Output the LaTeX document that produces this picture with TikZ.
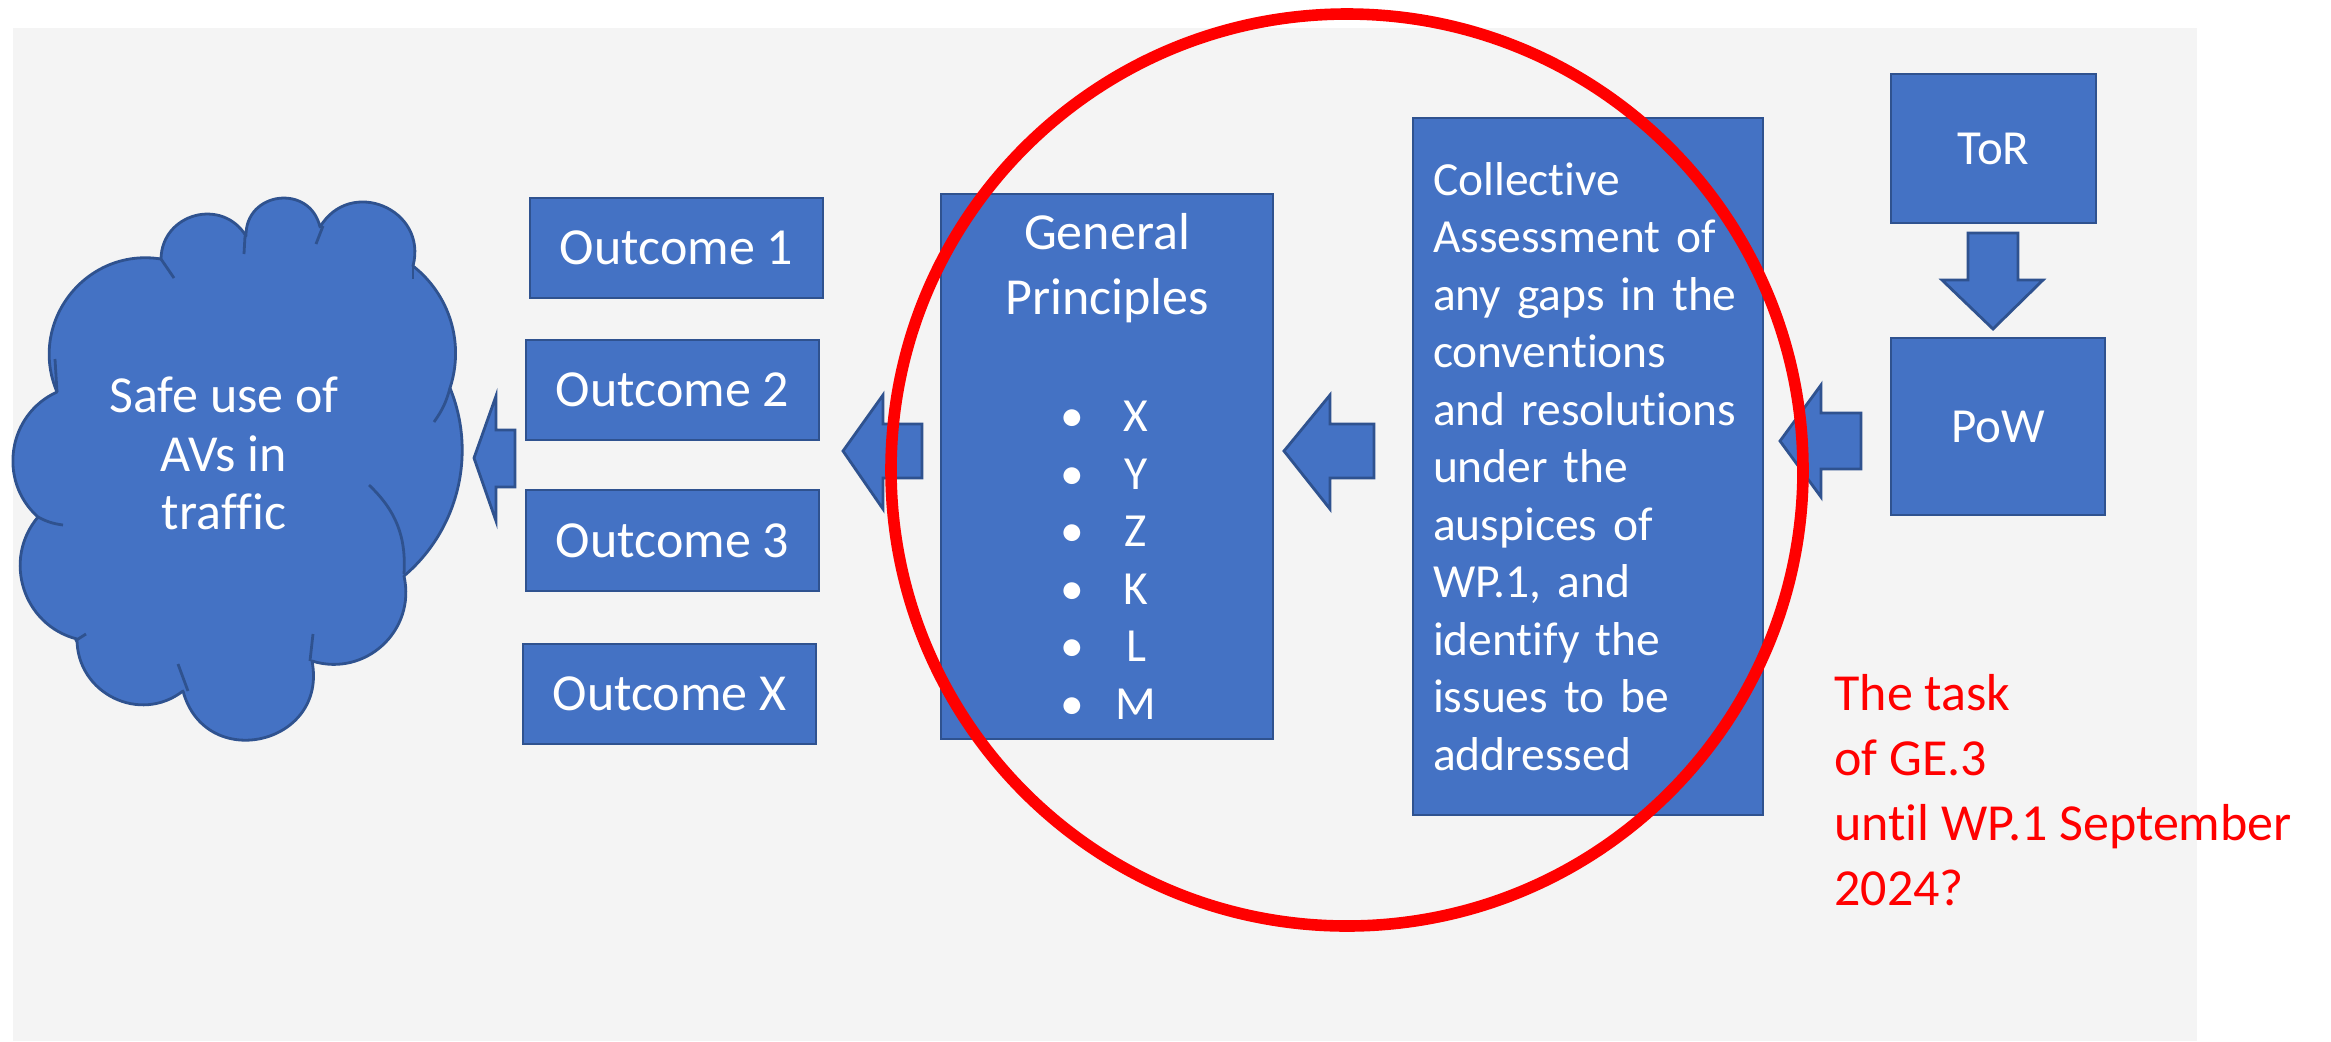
\documentclass[tikz,border=0pt]{standalone}
\usepackage{fontspec}
\setmainfont{Carlito}[Ligatures=NoCommon]
\usetikzlibrary{positioning}
\definecolor{boxblue}{HTML}{4472C4}
\definecolor{boxline}{HTML}{2F528F}
\definecolor{bggrey}{HTML}{F4F4F4}
\definecolor{ringred}{HTML}{FF0000}
\tikzset{
    blockbox/.style = {rectangle, draw=boxline, line width=1.4pt, fill=boxblue, text=white, inner sep=0pt, align=center},
    outbox/.style = {blockbox, minimum width=146.5pt, minimum height=50pt, font=\fontsize{26}{31}\selectfont},
    blockarrow/.style = {draw=boxline, line width=1.4pt, fill=boxblue, line join=miter},
    puffline/.style = {draw=boxline, line width=1.4pt},
    puff/.style = {puffline, fill=boxblue, line join=round},
    redring/.style = {circle, draw=ringred, line width=5.8pt, minimum size=456pt, inner sep=0pt},
    tasktext/.style = {text=ringred, align=left, anchor=north west, inner sep=0pt, font=\fontsize{26}{32.5}\selectfont}
}
\newcommand{\gpitem}[1]{\makebox[29pt]{\textbullet}\makebox[35pt]{#1}}

\begin{document}
\begin{tikzpicture}[x=0.5pt, y=-0.5pt]
  \useasboundingbox (0,0) rectangle (2331,1041);
  \fill[bggrey] (13,28) rectangle (2197,1041);

  % cloud
  \draw[puff] (57,392) to[bend right=57, looseness=1.10] (38,517)
    to[bend right=58, looseness=1.11] (77,639)
    to[bend right=64, looseness=1.18] (183,691)
    to[bend right=88, looseness=1.65] (312,661)
    to[bend right=60, looseness=1.14] (404,576)
    to[bend right=36, looseness=0.94] (450,388)
    to[bend right=35, looseness=0.94] (413,266)
    to[bend right=82, looseness=1.49] (320,227)
    to[bend right=84, looseness=1.54] (246,236)
    to[bend right=74, looseness=1.33] (161,259)
    to[bend right=61, looseness=1.15] (57,392) -- cycle;
  \draw[puffline] (55,359) -- (57,392);
  \draw[puffline] (38,517) to[bend right=10] (63,525);
  \draw[puffline] (75,641) -- (86,634);
  \draw[puffline] (178,664) -- (188,691);
  \draw[puffline] (313,634) -- (310,661);
  \draw[puffline] (369,485) to[bend left=25] (404,574);
  \draw[puffline] (450,388) to[bend left=10] (434,422);
  \draw[puffline] (413,266) -- (413,279);
  \draw[puffline] (323,226) -- (316,244);
  \draw[puffline] (245,236) -- (244,254);
  \draw[puffline] (161,259) -- (174,278);
  \node[text=white, align=center, font=\fontsize{26}{29.25}\selectfont] (safe) at (224,453.5) {Safe use of\\AVs in\\traffic};

  % block arrows
  \draw[blockarrow] (474,458) -- (496,396) -- (496,430) -- (515,430) -- (515,487) -- (496,487) -- (496,521) -- cycle;
  \draw[blockarrow] (843,451) -- (883,395) -- (883,424) -- (922,424) -- (922,478) -- (883,478) -- (883,509) -- cycle;
  \draw[blockarrow] (1284,451) -- (1330,395) -- (1330,424) -- (1374,424) -- (1374,478) -- (1330,478) -- (1330,509) -- cycle;
  \draw[blockarrow] (1780,441) -- (1821,385) -- (1821,413) -- (1861,413) -- (1861,469) -- (1821,469) -- (1821,497) -- cycle;
  \draw[blockarrow] (1993,329) -- (1942,280) -- (1968,280) -- (1968,233) -- (2018,233) -- (2018,280) -- (2043,280) -- cycle;

  \node[outbox] (out1) at (676.5,248) {Outcome 1};
  \node[outbox] (out2) at (672.5,390) {Outcome 2};
  \node[outbox, minimum height=50.5pt] (out3) at (672.5,540.5) {Outcome 3};
  \node[outbox] (outx) at (669.5,694) {Outcome X};

  \node[blockbox, minimum width=166pt, minimum height=272.5pt, font=\fontsize{23.75}{28.75}\selectfont] (gp) at (1107,466.5)
    {{\fontsize{26}{28.75}\selectfont General}\\[3.75pt]
     {\fontsize{26}{28.75}\selectfont Principles}\\[29.75pt]
     \gpitem{X}\\ \gpitem{Y}\\ \gpitem{Z}\\ \gpitem{K}\\ \gpitem{L}\\ \gpitem{M}};

  \node[blockbox, align=left, text width=155pt, inner xsep=10pt, minimum height=348.5pt, font=\fontsize{23.75}{28.75}\selectfont] (assess) at (1588,466.5)
    {Collective\\Assessment of\\any gaps in the\\conventions\\and resolutions\\under the\\auspices of\\WP.1, and\\identify the\\issues to be\\addressed};

  \node[blockbox, minimum width=102.5pt, minimum height=74.5pt, font=\fontsize{24.5}{29}\selectfont] (tor) at (1993.5,148.5) {ToR};
  \node[blockbox, minimum width=107pt, minimum height=88.5pt, font=\fontsize{24.5}{29}\selectfont] (pow) at (1998,426.5) {PoW};

  \node[redring] (scope) at (1347,470) {};
  \node[tasktext] (task) at (1834,674) {The task\\of GE.3\\until WP.1 September\\2024?};
\end{tikzpicture}
\end{document}
